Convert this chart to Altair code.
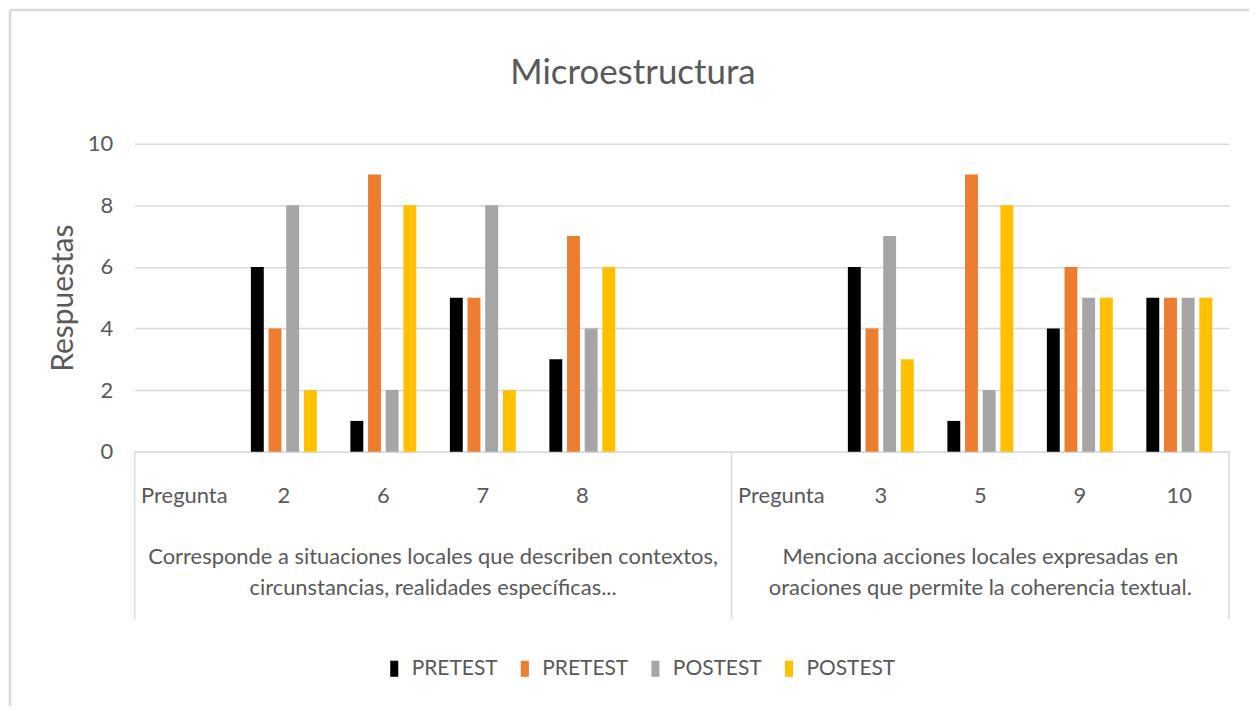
import altair as alt
import pandas as pd

# categories (slot keys; trailing spaces keep duplicate labels distinct)
slots = ["Pregunta", "2", "6", "7", "8", " ", "Pregunta ", "3", "5", "9", "10"]
questions = ["2", "6", "7", "8", "3", "5", "9", "10"]
series = ["PRETEST", "PRETEST ", "POSTEST", "POSTEST "]
colors = ["#000000", "#ED7D31", "#A5A5A5", "#FFC000"]

pretest_black = [6, 1, 5, 3, 6, 1, 4, 5]
pretest_orange = [4, 9, 5, 7, 4, 9, 6, 5]
postest_gray = [8, 2, 8, 4, 7, 2, 5, 5]
postest_yellow = [2, 8, 2, 6, 3, 8, 5, 5]

chart_title = "Microestructura"
group_labels = [
    "Corresponde a situaciones locales que describen contextos,\ncircunstancias, realidades específicas...",
    "Menciona acciones locales expresadas en\noraciones que permite la coherencia textual.",
]
group_anchor = ["7", "5"]
group_band = [0.0, 0.5]
separators = ["Pregunta", "Pregunta ", "10"]
separator_band = [0.0, 0.0, 1.0]

rows = []
for s, vals in zip(series, [pretest_black, pretest_orange, postest_gray, postest_yellow]):
    for q, v in zip(questions, vals):
        rows.append({"slot": q, "series": s, "value": v})
bars_df = pd.DataFrame(rows)

W, H = 1098, 309
PAD_L, PAD_T, PAD_R, PAD_B = 127, 135, 20, 255
FONT = "Lato"
TXT = "#595959"
LINE = "#d9d9d9"

x_scale = alt.Scale(domain=slots, paddingInner=0, paddingOuter=0)

bars = alt.Chart(bars_df).mark_bar().encode(
    x=alt.X("slot:N", scale=x_scale, sort=None,
            axis=alt.Axis(title=None, labelAngle=0, labelPadding=34, ticks=False,
                          domainColor=LINE, domainWidth=1.5, labelFontSize=22,
                          labelColor=TXT, labelFont=FONT, grid=False)),
    xOffset=alt.XOffset("series:N", sort=series,
                        scale=alt.Scale(domain=series, paddingInner=0.27, paddingOuter=0.95)),
    y=alt.Y("value:Q", scale=alt.Scale(domain=[0, 10]),
            axis=alt.Axis(title="Respuestas", values=[0, 2, 4, 6, 8, 10], domain=False,
                          ticks=False, labelPadding=22, titlePadding=9,
                          gridColor=LINE, gridWidth=1.5,
                          labelFontSize=22, titleFontSize=30, titleFontWeight="normal",
                          labelColor=TXT, titleColor=TXT, labelFont=FONT, titleFont=FONT)),
    color=alt.Color("series:N", sort=series,
                    scale=alt.Scale(domain=series, range=colors),
                    legend=alt.Legend(title=None, orient="none", direction="horizontal",
                                      legendX=250, legendY=516,
                                      symbolType="M-0.5,-1H0.5V1H-0.5Z", symbolSize=260,
                                      symbolStrokeWidth=0, labelFontSize=21, labelFont=FONT,
                                      labelColor=TXT, columnPadding=16, labelOffset=7)),
)

gl_df = pd.DataFrame({"slot": group_anchor, "label": group_labels, "band": group_band})
texts = []
for i in range(len(gl_df)):
    texts.append(
        alt.Chart(gl_df.iloc[[i]]).mark_text(
            lineBreak="\n", fontSize=22, font=FONT, color=TXT, baseline="top",
            align="center", lineHeight=31,
        ).encode(
            x=alt.X("slot:N", scale=x_scale, sort=None, bandPosition=float(gl_df.iloc[i]["band"])),
            y=alt.value(H + 96),
            text="label:N",
        )
    )

sep_rules = []
for s, b in zip(separators, separator_band):
    sep_rules.append(
        alt.Chart(pd.DataFrame({"slot": [s]})).mark_rule(color=LINE, strokeWidth=1.5).encode(
            x=alt.X("slot:N", scale=x_scale, sort=None, bandPosition=b),
            y=alt.value(H),
            y2=alt.value(H + 168),
        )
    )

title_mark = alt.Chart(pd.DataFrame({"t": [chart_title]})).mark_text(
    fontSize=35, font=FONT, color=TXT, align="center", baseline="middle",
).encode(
    x=alt.value(635 - 8 - PAD_L),
    y=alt.value(72 - 8 - PAD_T),
    text="t:N",
)

# outer chart frame (top and left edges visible in the reference)
frame_top = alt.Chart(pd.DataFrame({"k": [0]})).mark_rule(color=LINE, strokeWidth=2.5).encode(
    x=alt.value(10 - 8 - PAD_L), x2=alt.value(W + PAD_R),
    y=alt.value(9 - 8 - PAD_T),
)
frame_left = alt.Chart(pd.DataFrame({"k": [0]})).mark_rule(color=LINE, strokeWidth=2.5).encode(
    x=alt.value(10 - 8 - PAD_L),
    y=alt.value(9 - 8 - PAD_T), y2=alt.value(H + PAD_B),
)

chart = alt.layer(bars, *texts, *sep_rules, title_mark, frame_top, frame_left).properties(
    width=W, height=H,
    autosize=alt.AutoSizeParams(type="none"),
    padding={"left": PAD_L, "top": PAD_T, "right": PAD_R, "bottom": PAD_B},
).configure(background="white").configure_view(stroke=None)

chart.save("out.html", embed_options={"renderer": "svg", "actions": False})
